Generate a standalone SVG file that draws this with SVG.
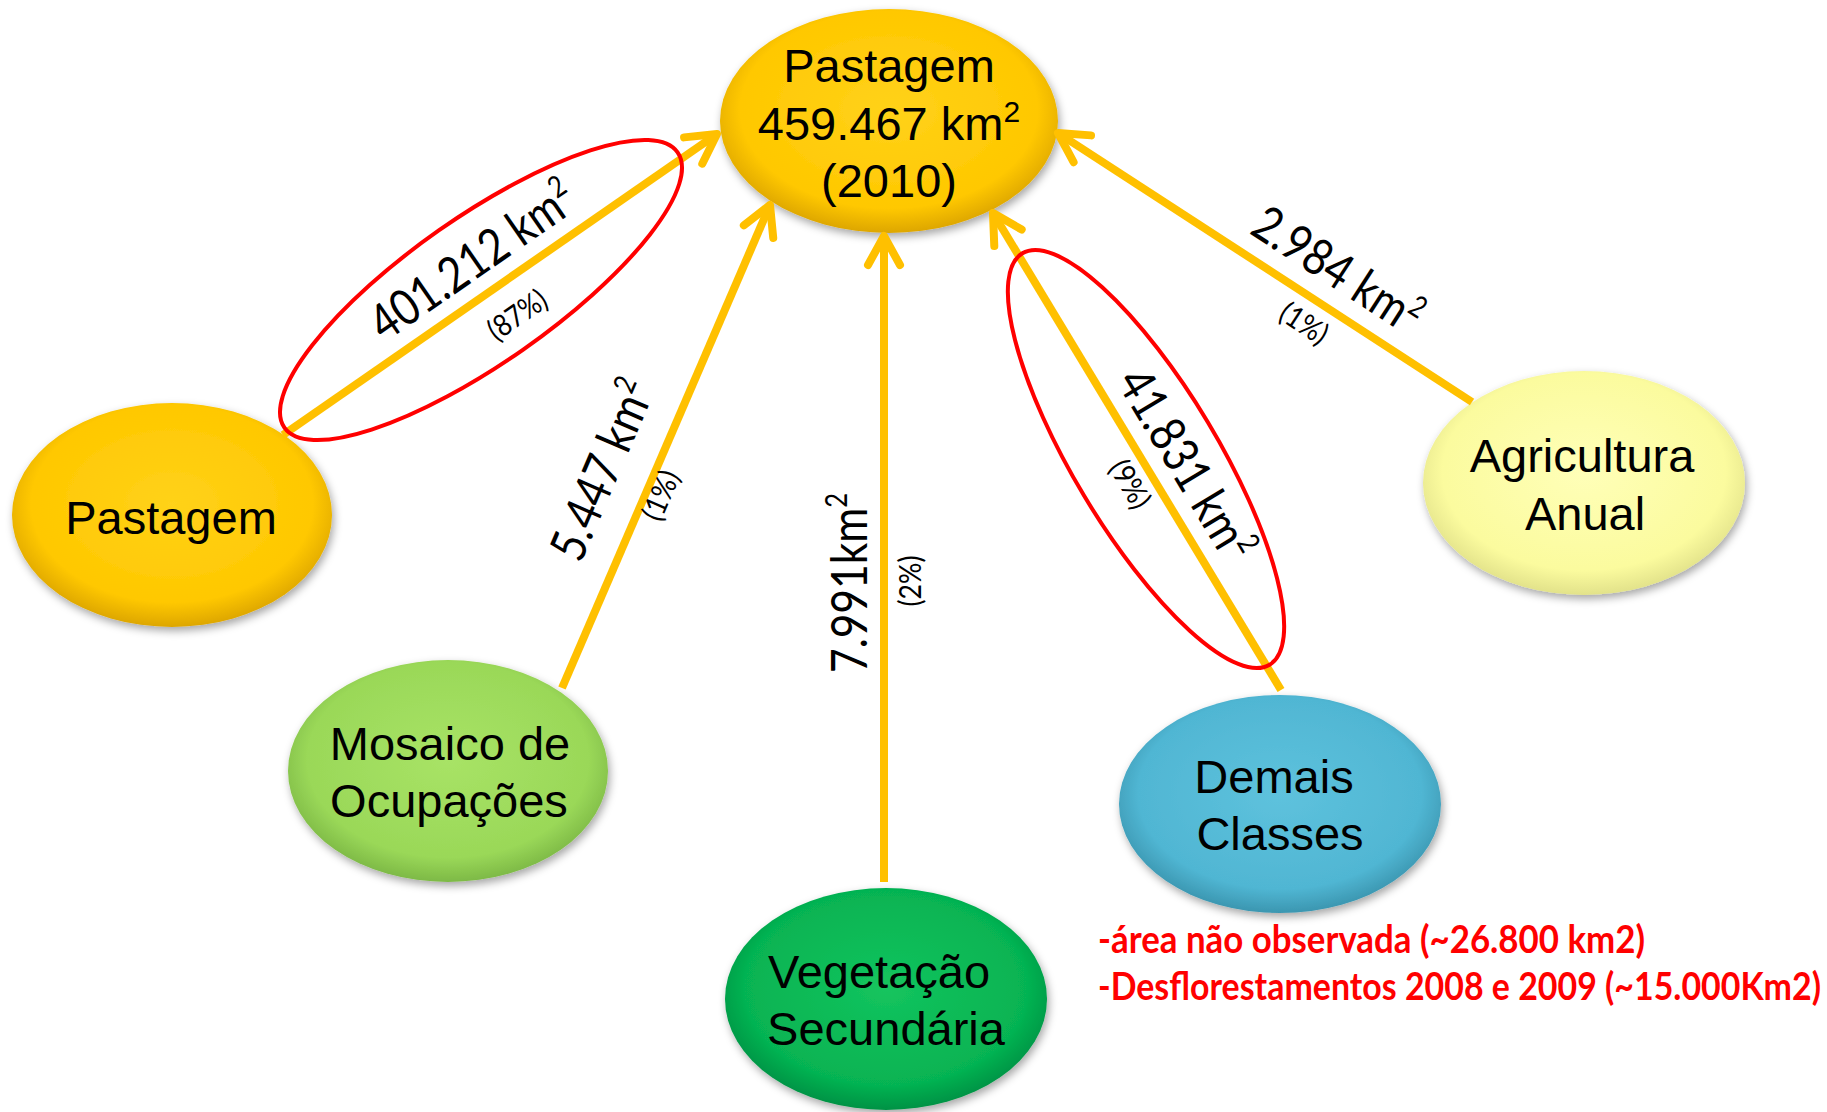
<svg xmlns="http://www.w3.org/2000/svg" width="1827" height="1112" viewBox="0 0 1827 1112">
<style>
.node-text{font-family:"Liberation Sans",Arial,sans-serif;font-size:47px;fill:#000;text-anchor:middle}
.lbl{font-family:Lato,"Open Sans",sans-serif;font-size:50px;fill:#000}
.pct{font-family:Lato,"Open Sans",sans-serif;font-size:30px;fill:#000;text-anchor:middle}
.conn{stroke:#FFC000;stroke-width:8;fill:none;marker-end:url(#arrow)}
.hl{fill:none;stroke:#FF0000;stroke-width:4}
.note{font-family:Lato,"Open Sans",sans-serif;font-weight:bold;font-size:39px;fill:#FF0000}
</style>
<defs>
<marker id="arrow" markerUnits="userSpaceOnUse" viewBox="-40 -30 55 60" markerWidth="55" markerHeight="60" refX="0" refY="0" orient="auto">
<path d="M-29,-16 L0,0 L-29,16" fill="none" stroke="#FFC000" stroke-width="8" stroke-linecap="round" stroke-linejoin="round"/>
</marker>
<filter id="sh" x="-10%" y="-10%" width="125%" height="130%">
<feDropShadow dx="2" dy="4" stdDeviation="4" flood-color="#000" flood-opacity="0.35"/>
</filter>
<radialGradient id="gPast" cx="50%" cy="45%" r="55%">
<stop offset="0" stop-color="#FFD21A"/><stop offset="0.8" stop-color="#FFC800"/><stop offset="1" stop-color="#DDA600"/>
</radialGradient>
<radialGradient id="gAgri" cx="50%" cy="45%" r="55%">
<stop offset="0" stop-color="#FFFFB8"/><stop offset="0.8" stop-color="#FBFB9E"/><stop offset="1" stop-color="#E2E28A"/>
</radialGradient>
<radialGradient id="gMos" cx="50%" cy="45%" r="55%">
<stop offset="0" stop-color="#A8E366"/><stop offset="0.8" stop-color="#9AD858"/><stop offset="1" stop-color="#7DB946"/>
</radialGradient>
<radialGradient id="gVeg" cx="50%" cy="45%" r="55%">
<stop offset="0" stop-color="#14C45E"/><stop offset="0.8" stop-color="#06B352"/><stop offset="1" stop-color="#039244"/>
</radialGradient>
<radialGradient id="gDem" cx="50%" cy="45%" r="55%">
<stop offset="0" stop-color="#5EC2DD"/><stop offset="0.8" stop-color="#50B6D3"/><stop offset="1" stop-color="#3B96B0"/>
</radialGradient>
</defs>
<rect width="1827" height="1112" fill="#FFFFFF"/>

<g id="node-pastagem-2010">
<ellipse cx="889" cy="121" rx="169" ry="112" fill="url(#gPast)" filter="url(#sh)"/>
<text class="node-text" x="889" y="82">Pastagem</text>
<text class="node-text" x="889" y="140">459.467 km<tspan font-size="30" dy="-18">2</tspan></text>
<text class="node-text" x="889" y="197">(2010)</text>
</g>
<g id="node-pastagem">
<ellipse cx="172" cy="515" rx="160" ry="112" fill="url(#gPast)" filter="url(#sh)"/>
<text class="node-text" x="171" y="534">Pastagem</text>
</g>
<g id="node-mosaico">
<ellipse cx="448" cy="771" rx="160" ry="111" fill="url(#gMos)" filter="url(#sh)"/>
<text class="node-text" x="450" y="760">Mosaico de</text>
<text class="node-text" x="449" y="817">Ocupações</text>
</g>
<g id="node-vegetacao">
<ellipse cx="886" cy="999" rx="161" ry="111" fill="url(#gVeg)" filter="url(#sh)"/>
<text class="node-text" x="879" y="988">Vegetação</text>
<text class="node-text" x="886" y="1045">Secundária</text>
</g>
<g id="node-demais">
<ellipse cx="1280" cy="804" rx="161" ry="109" fill="url(#gDem)" filter="url(#sh)"/>
<text class="node-text" x="1274" y="793">Demais</text>
<text class="node-text" x="1280" y="850">Classes</text>
</g>
<g id="node-agricultura">
<ellipse cx="1584" cy="483" rx="161" ry="112" fill="url(#gAgri)" filter="url(#sh)"/>
<text class="node-text" x="1582" y="472">Agricultura</text>
<text class="node-text" x="1585" y="530">Anual</text>
</g>

<g id="connectors">
<line class="conn" x1="283" y1="435" x2="717" y2="134"/>
<line class="conn" x1="562" y1="688" x2="770" y2="205"/>
<line class="conn" x1="884" y1="882" x2="884" y2="236"/>
<line class="conn" x1="1281" y1="690" x2="993" y2="213"/>
<line class="conn" x1="1472" y1="402" x2="1058" y2="133"/>
</g>

<g id="connector-labels">
<g transform="translate(283,435) rotate(-34.7)">
<text class="lbl" x="136" y="-18" textLength="238" lengthAdjust="spacingAndGlyphs">401.212 km<tspan font-size="30" dy="-20">2</tspan></text>
<text class="pct" x="261" y="45" textLength="65" lengthAdjust="spacingAndGlyphs">(87%)</text>
</g>
<g transform="translate(562,688) rotate(-66.7)">
<text class="lbl" x="121" y="-32" textLength="190" lengthAdjust="spacingAndGlyphs">5.447 km<tspan font-size="30" dy="-20">2</tspan></text>
<text class="pct" x="216" y="25" textLength="51" lengthAdjust="spacingAndGlyphs">(1%)</text>
</g>
<g transform="translate(884,882) rotate(-90)">
<text class="lbl" x="209" y="-17" textLength="180" lengthAdjust="spacingAndGlyphs">7.991km<tspan font-size="30" dy="-20">2</tspan></text>
<text class="pct" x="301" y="37" textLength="51" lengthAdjust="spacingAndGlyphs">(2%)</text>
</g>
<g transform="translate(993,213) rotate(58.9)">
<text class="lbl" x="208" y="-18" textLength="214" lengthAdjust="spacingAndGlyphs">41.831 km<tspan font-size="30" dy="-20">2</tspan></text>
<text class="pct" x="303" y="33" textLength="51" lengthAdjust="spacingAndGlyphs">(9%)</text>
</g>
<g transform="translate(1058,133) rotate(33)">
<text class="lbl" x="214" y="-20" textLength="190" lengthAdjust="spacingAndGlyphs">2.984 km<tspan font-size="30" dy="-20">2</tspan></text>
<text class="pct" x="310" y="36" textLength="51" lengthAdjust="spacingAndGlyphs">(1%)</text>
</g>
</g>

<g id="highlights">
<ellipse class="hl" cx="481" cy="290" rx="240" ry="73" transform="rotate(-35 481 290)"/>
<ellipse class="hl" cx="1146" cy="459" rx="240" ry="72" transform="rotate(59 1146 459)"/>
</g>

<g id="notes">
<text class="note" x="1098" y="953" textLength="547" lengthAdjust="spacingAndGlyphs">-área não observada (~26.800 km2)</text>
<text class="note" x="1098" y="1000" textLength="723" lengthAdjust="spacingAndGlyphs">-Desflorestamentos 2008 e 2009 (~15.000Km2)</text>
</g>
</svg>
